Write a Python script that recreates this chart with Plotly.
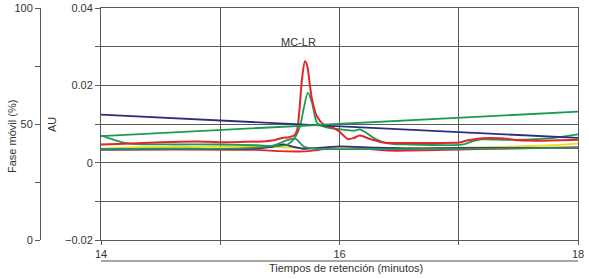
import plotly.graph_objects as go

# ---- data ----
# mobile-phase gradient lines (% , left axis)
grad_t = [14, 18]
grad_navy = [54, 44]
grad_green = [44.8, 55.3]

# chromatograms (AU)
red_t = [14.0, 14.2, 14.5, 14.8, 15.0, 15.2, 15.35, 15.45, 15.52, 15.58, 15.62, 15.645, 15.665, 15.685, 15.71,
         15.73, 15.75, 15.77, 15.81, 15.87, 15.95, 16.0, 16.07, 16.12, 16.17, 16.25, 16.37, 16.5, 16.8, 17.0,
         17.08, 17.2, 17.35, 17.5, 17.7, 18.0]
red_v = [0.0047, 0.0049, 0.0053, 0.0055, 0.0053, 0.0054, 0.0055, 0.0058, 0.0064, 0.0066, 0.0070, 0.0085, 0.0140,
         0.0215, 0.0262, 0.0250, 0.0205, 0.0163, 0.0120, 0.0098, 0.0090, 0.0080, 0.0061, 0.0064, 0.0070, 0.0062,
         0.0052, 0.0051, 0.0051, 0.0052, 0.0058, 0.0063, 0.0063, 0.0058, 0.0057, 0.0059]

green_t = [14.0, 14.1, 14.2, 14.3, 14.6, 15.0, 15.3, 15.45, 15.55, 15.6, 15.64, 15.67, 15.70, 15.735, 15.77,
           15.81, 15.87, 15.95, 16.05, 16.12, 16.17, 16.22, 16.3, 16.4, 16.6, 17.0, 17.05, 17.12, 17.2, 17.4,
           17.6, 17.8, 18.0]
green_v = [0.0070, 0.0060, 0.0051, 0.0048, 0.0047, 0.0047, 0.0045, 0.0043, 0.0045, 0.0055, 0.0072, 0.0095,
           0.0140, 0.0181, 0.0155, 0.0104, 0.0093, 0.0088, 0.0085, 0.0083, 0.0086, 0.0078, 0.0062, 0.0050,
           0.0047, 0.0046, 0.0048, 0.0056, 0.0060, 0.0059, 0.0060, 0.0064, 0.0073]

green2_t = [14.0, 14.6, 15.2, 15.45, 15.56, 15.63, 15.70, 15.8, 16.0, 16.5, 17.0, 17.5, 18.0]
green2_v = [0.0035, 0.0036, 0.0037, 0.0045, 0.0058, 0.0062, 0.0042, 0.0036, 0.0035, 0.0035, 0.0036, 0.0037, 0.0038]

navy_t = [14.0, 14.6, 15.2, 15.42, 15.53, 15.6, 15.7, 15.9, 16.0, 16.3, 16.6, 17.0, 17.5, 18.0]
navy_v = [0.0034, 0.0035, 0.0036, 0.0040, 0.0047, 0.0042, 0.0036, 0.0040, 0.0042, 0.0039, 0.0037, 0.0038, 0.0038, 0.0038]

red2_t = [14.0, 14.6, 15.3, 15.5, 15.7, 15.8, 16.0, 16.4, 16.6, 17.0, 17.5, 18.0]
red2_v = [0.0034, 0.0034, 0.0033, 0.0030, 0.0029, 0.0032, 0.0040, 0.0031, 0.0031, 0.0034, 0.0037, 0.0040]

yellow_t = [14.0, 14.3, 14.8, 15.3, 15.6, 15.8, 16.0, 16.3, 16.7, 17.0, 17.5, 17.8, 18.0]
yellow_v = [0.0036, 0.0040, 0.0041, 0.0041, 0.0039, 0.0038, 0.0038, 0.0038, 0.0038, 0.0039, 0.0042, 0.0045, 0.0049]

x_tickvals = [14, 15, 16, 17, 18]
x_ticktext = ["14", "", "16", "", "18"]
au_tickvals = [-0.02, -0.01, 0, 0.01, 0.02, 0.03, 0.04]
au_ticktext = ["\u22120.02", "", "0", "", "0.02", "", "0.04"]
pct_tickvals = [0, 25, 50, 75, 100]
pct_ticktext = ["0", "", "50", "", "100"]

NAVY = "#2a2f80"
GREEN = "#1e9a50"
GREEN2 = "#2a8f6a"
RED = "#e2252b"
YELLOW = "#f2dc14"

fig = go.Figure()
fig.add_trace(go.Scatter(x=grad_t, y=grad_navy, yaxis="y2", mode="lines", line=dict(color=NAVY, width=1.8)))
fig.add_trace(go.Scatter(x=grad_t, y=grad_green, yaxis="y2", mode="lines", line=dict(color=GREEN, width=1.8)))

def add(t, v, color, w=1.8):
    fig.add_trace(go.Scatter(x=t, y=v, mode="lines", line=dict(color=color, width=w, shape="spline", smoothing=0.7)))

add(red2_t, red2_v, RED)
add(yellow_t, yellow_v, YELLOW)
add(navy_t, navy_v, NAVY)
add(green2_t, green2_v, GREEN2)
add(green_t, green_v, GREEN)
add(red_t, red_v, RED, 2.0)

FONT = "Arial, Liberation Sans, sans-serif"
TXT = "#333333"
GRID = "#5a5a5a"

W, H = 589, 279
ml, mr, mt, mb = 40, 11, 8, 39
pw = W - ml - mr
ph = H - mt - mb
x0 = (101 - ml) / pw

fig.update_layout(
    width=W, height=H, margin=dict(l=ml, r=mr, t=mt, b=mb, autoexpand=False),
    paper_bgcolor="white", plot_bgcolor="white", showlegend=False, hovermode=False,
    font=dict(family=FONT, size=11, color=TXT),
    xaxis=dict(domain=[x0, 1], range=[14, 18], tickvals=x_tickvals, ticktext=x_ticktext, automargin=False,
               showgrid=True, gridcolor=GRID, gridwidth=1, zeroline=False,
               showline=True, linecolor=GRID, linewidth=1, mirror=True,
               ticks="outside", ticklen=4, tickcolor=GRID, tickfont=dict(size=11, color=TXT)),
    yaxis=dict(range=[-0.02, 0.04], tickvals=au_tickvals, ticktext=au_ticktext, automargin=False,
               showgrid=True, gridcolor=GRID, gridwidth=1, zeroline=False,
               showline=True, linecolor=GRID, linewidth=1, mirror=True,
               ticks="outside", ticklen=5, tickcolor=GRID, tickfont=dict(size=11, color=TXT)),
    yaxis2=dict(range=[0, 100], tickvals=pct_tickvals, ticktext=pct_ticktext, automargin=False,
                overlaying="y", anchor="free", position=0, side="left",
                showgrid=False, zeroline=False, showline=True, linecolor=GRID, linewidth=1,
                ticks="outside", ticklen=5, tickcolor=GRID, tickfont=dict(size=11, color=TXT)),
)

def txt(s, xpx, ypx, angle=0):
    fig.add_annotation(text=s, xref="paper", yref="paper", x=(xpx - ml) / pw, y=(240 - ypx) / ph,
                       xanchor="center", yanchor="middle", textangle=angle, showarrow=False,
                       font=dict(size=11, color=TXT))

txt("AU", 52, 125, -90)
txt("Fase móvil (%)", 12, 137, -90)
txt("Tiempos de retención (minutos)", 346, 268)
fig.add_annotation(text="MC-LR", x=15.66, y=0.0313, showarrow=False, xanchor="center", yanchor="middle",
                   font=dict(size=11, color=TXT))
fig.add_shape(type="line", xref="paper", yref="paper", x0=x0, x1=1, y0=-(261 - 240) / ph, y1=-(261 - 240) / ph,
              line=dict(color="#8a8a8a", width=1.5))

fig.write_html("out.html", config={"displayModeBar": False, "staticPlot": True},
               post_script="document.body.style.margin='0';document.body.style.padding='0';")
